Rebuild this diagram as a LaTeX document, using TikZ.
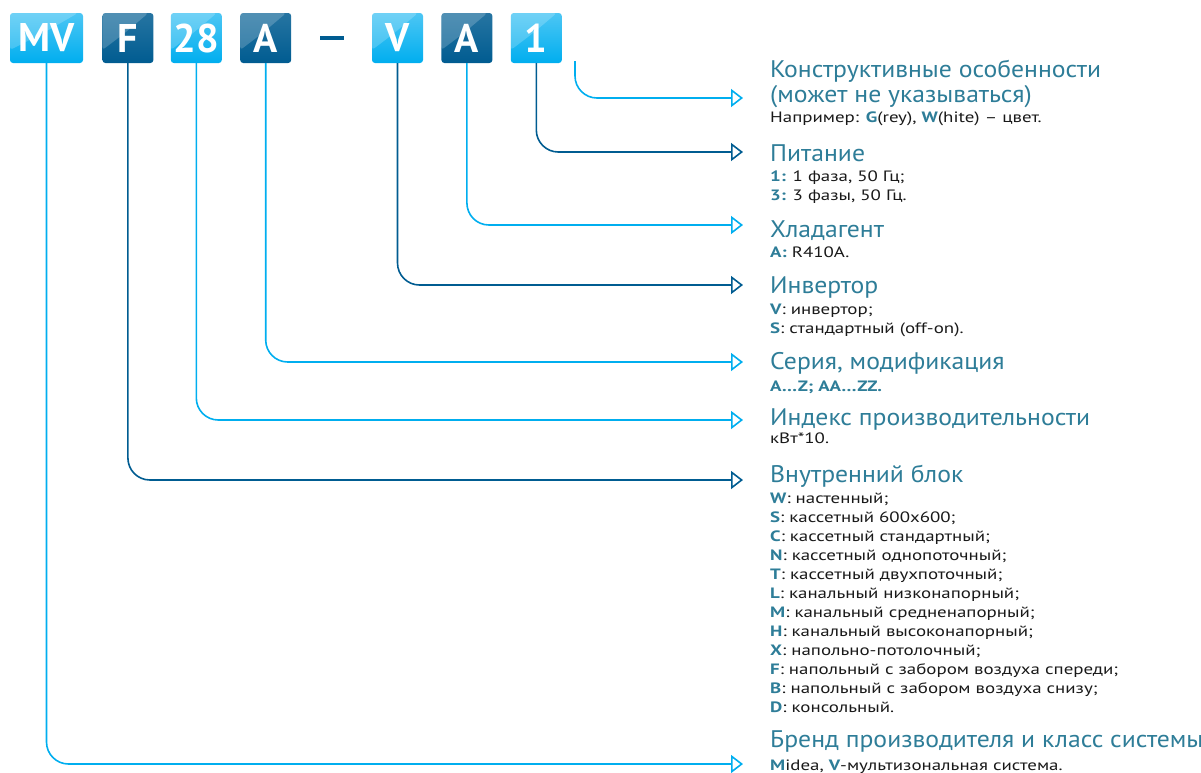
\documentclass[tikz,border=0pt]{standalone}
\usepackage{fontspec}
\setmainfont{PT Sans}
\newfontfamily\titlefont[FakeStretch=1.07]{PT Sans}
\newfontfamily\bodyfont[FakeStretch=1.26]{PT Sans}
\usetikzlibrary{arrows.meta,positioning}

\definecolor{lightblue}{RGB}{0,174,239}
\definecolor{darkblue}{RGB}{0,92,145}
\definecolor{titleblue}{RGB}{46,125,152}
\definecolor{bodygray}{RGB}{25,25,25}
\newcommand\hlt[1]{\textbf{\color{titleblue}#1}}

\begin{document}
\begin{tikzpicture}[x=1pt,y=-1pt,
% Code boxes style
    codebox/.style={rounded corners=3pt,minimum height=50pt,minimum width=51pt,
		inner sep=0pt,text=white,font=\bfseries\fontsize{40}{40}\selectfont,
		path picture={\fill[white,opacity=.2] (path picture bounding box.north west)
			-- ([xshift=-5pt]path picture bounding box.north east)
			.. controls ([xshift=-3pt,yshift=5pt]path picture bounding box.center)
			.. ([yshift=13pt]path picture bounding box.south west) -- cycle;}},
    lightbox/.style={codebox,top color=lightblue!70!white,bottom color=lightblue},
    darkbox/.style={codebox,top color=darkblue!85!white,bottom color=darkblue},
% Connector style
    link/.style={line width=1.6pt,rounded corners=22pt,
		-{Triangle[open,length=12pt,width=18pt,line width=1.6pt]}},
    lightline/.style={link,draw=lightblue},
    darkline/.style={link,draw=darkblue},
% Text style
    title/.style={anchor=base west,inner sep=0pt,text=titleblue,
		font=\titlefont\fontsize{24}{24}\selectfont},
    body/.style={anchor=base west,inner sep=0pt,text=bodygray,
		font=\bodyfont\fontsize{15}{15}\selectfont},
    node distance=18pt
    ]
\useasboundingbox (0,0) rectangle (1201,772);
%% Model code
    \node (mv) [lightbox,minimum width=73pt] at (46.5,38) {MV};
    \node (f) [darkbox,right=19pt of mv] {F};
    \node (n28) [lightbox,right=17pt of f] {28};
    \node (a1) [darkbox,right=of n28] {A};
    \node (dash) [fill=darkblue,minimum width=24pt,minimum height=4pt,
		inner sep=0pt,right=28pt of a1] {};
    \node (v) [lightbox,right=28pt of dash] {V};
    \node (a2) [darkbox,right=of v] {A};
    \node (one) [lightbox,right=of a2] {1};
%% Arrow ends
    \coordinate (feat) at (575,61);
    \coordinate (tfeat) at (743,98);
    \coordinate (tpow) at (743,152);
    \coordinate (tref) at (743,225);
    \coordinate (tinv) at (743,285);
    \coordinate (tser) at (743,362);
    \coordinate (tidx) at (743,420);
    \coordinate (tunit) at (743,480);
    \coordinate (tbrand) at (743,764);
%% Connectors
    \draw [lightline] (feat) |- (tfeat);
    \draw [darkline] (one.south) |- (tpow);
    \draw [lightline] (a2.south) |- (tref);
    \draw [darkline] (v.south) |- (tinv);
    \draw [lightline] (a1.south) |- (tser);
    \draw [lightline] (n28.south) |- (tidx);
    \draw [darkline] (f.south) |- (tunit);
    \draw [lightline] (mv.south) |- (tbrand);
%% Descriptions
    \node (feat1) [title] at (770,77) {Конструктивные особенности};
    \node (feat2) [title] at (770,102) {(может не указываться)};
    \node (featb) [body] at (770,122) {Например: \hlt{G}(rey), \hlt{W}(hite) – цвет.};
    \node (pow) [title] at (770,161) {Питание};
    \node (pow1) [body] at (770,181) {\hlt{1:} 1 фаза, 50 Гц;};
    \node (pow3) [body] at (770,200) {\hlt{3:} 3 фазы, 50 Гц.};
    \node (ref) [title] at (770,237) {Хладагент};
    \node (refb) [body] at (770,257) {\hlt{A:} R410A.};
    \node (inv) [title] at (770,293) {Инвертор};
    \node (invv) [body] at (770,314) {\hlt{V}: инвертор;};
    \node (invs) [body] at (770,333) {\hlt{S}: стандартный (off-on).};
    \node (ser) [title] at (770,369) {Серия, модификация};
    \node (serb) [body] at (770,391) {\hlt{A…Z; AA…ZZ.}};
    \node (idx) [title] at (770,425) {Индекс производительности};
    \node (idxb) [body] at (770,443) {кВт*10.};
    \node (unit) [title] at (770,482) {Внутренний блок};
	\foreach \c/\t [count=\i from 0] in {W/настенный;, S/кассетный 600x600;,
		C/кассетный стандартный;, N/кассетный однопоточный;,
		T/кассетный двухпоточный;, L/канальный низконапорный;,
		M/канальный средненапорный;, H/канальный высоконапорный;,
		X/напольно-потолочный;, F/напольный с забором воздуха спереди;,
		B/напольный с забором воздуха снизу;, D/консольный.}
	  \node (unit\c) [body] at (770,503+19*\i) {\hlt{\c}: \t};
    \node (brand) [title] at (770,747) {Бренд производителя и класс системы};
    \node (brandb) [body] at (770,770) {\hlt{M}idea, \hlt{V}-мультизональная система.};

\end{tikzpicture}
\end{document}
